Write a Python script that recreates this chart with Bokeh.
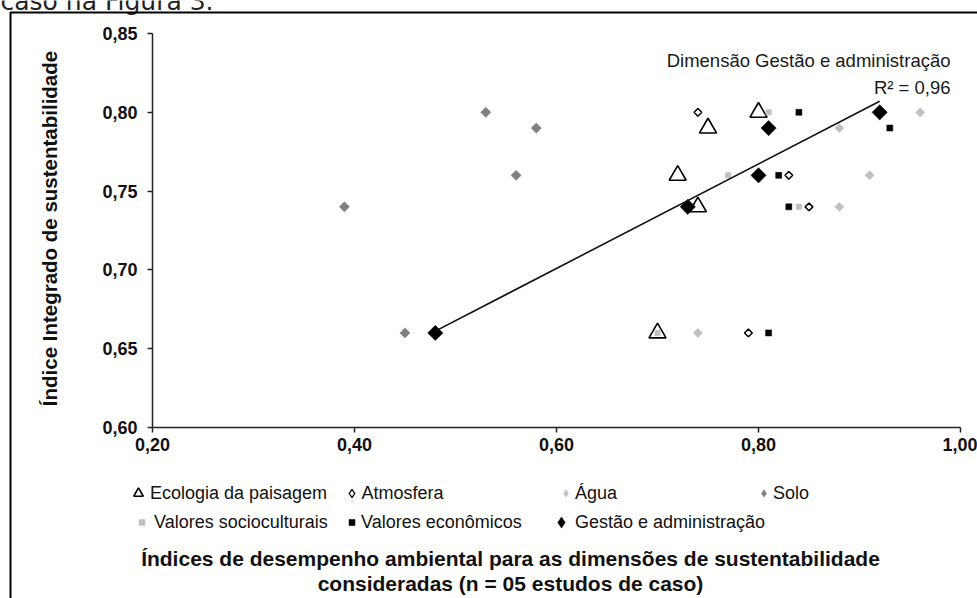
import numpy as np
from bokeh.plotting import figure
from bokeh.models import Range1d, FixedTicker, Label, Legend, LegendItem, BoxAnnotation
from bokeh.embed import file_html
from bokeh.resources import INLINE

# ---------------- data ----------------
x_ticks = [0.20, 0.40, 0.60, 0.80, 1.00]
x_tick_labels = ["0,20", "0,40", "0,60", "0,80", "1,00"]
y_ticks = [0.60, 0.65, 0.70, 0.75, 0.80, 0.85]
y_tick_labels = ["0,60", "0,65", "0,70", "0,75", "0,80", "0,85"]

series_names = ["Ecologia da paisagem", "Atmosfera", "Água", "Solo",
                "Valores socioculturais", "Valores econômicos", "Gestão e administração"]

eco_x = [0.70, 0.72, 0.74, 0.75, 0.80]
eco_y = [0.66, 0.76, 0.74, 0.79, 0.80]
atm_x = [0.79, 0.85, 0.83, 0.74]
atm_y = [0.66, 0.74, 0.76, 0.80]
agua_x = [0.74, 0.88, 0.91, 0.88, 0.96]
agua_y = [0.66, 0.74, 0.76, 0.79, 0.80]
solo_x = [0.45, 0.39, 0.56, 0.58, 0.53]
solo_y = [0.66, 0.74, 0.76, 0.79, 0.80]
soc_x = [0.70, 0.84, 0.77, 0.81]
soc_y = [0.66, 0.74, 0.76, 0.80]
econ_x = [0.81, 0.83, 0.82, 0.93, 0.84]
econ_y = [0.66, 0.74, 0.76, 0.79, 0.80]
ges_x = [0.48, 0.73, 0.80, 0.81, 0.92]
ges_y = [0.66, 0.74, 0.76, 0.79, 0.80]

annot_title = "Dimensão Gestão e administração"
r2_text = "R² = 0,96"
y_title = "Índice Integrado de sustentabilidade"
x_title_1 = "Índices de desempenho ambiental para as dimensões de sustentabilidade"
x_title_2 = "consideradas (n = 05 estudos de caso)"
top_text = "caso na Figura 3."

# ---------------- layout constants (pixels) ----------------
W, H = 977, 598
FL, FR, FT, FB = 152, 960, 33, 427      # where the data box sits on the canvas
X0, X1, Y0, Y1 = 0.2, 1.0, 0.6, 0.85    # data box limits


def dx(px):
    return X0 + (px - FL) / (FR - FL) * (X1 - X0)


def dy(py):
    return Y0 + (FB - py) / (FB - FT) * (Y1 - Y0)


FONT = "Liberation Sans"

# the frame covers the whole canvas; axes are pinned at the data box edges
p = figure(width=W, height=H, output_backend="svg", toolbar_location=None,
           x_range=Range1d(dx(0), dx(W)), y_range=Range1d(dy(H), dy(0)),
           min_border=0)
p.title.visible = False
p.outline_line_color = None
p.grid.visible = False
p.background_fill_color = "white"
p.border_fill_color = "white"

p.xaxis.fixed_location = Y0
p.yaxis.fixed_location = X0
p.xaxis.bounds = (X0, X1)
p.yaxis.bounds = (Y0, Y1)

for ax, ticks, labels in ((p.xaxis, x_ticks, x_tick_labels), (p.yaxis, y_ticks, y_tick_labels)):
    ax.ticker = FixedTicker(ticks=ticks)
    ax.major_label_overrides = {t: l for t, l in zip(ticks, labels)}
    ax.axis_line_color = "#222222"
    ax.axis_line_width = 1.5
    ax.major_tick_line_color = "#222222"
    ax.major_tick_line_width = 1.5
    ax.major_tick_in = 0
    ax.major_tick_out = 5
    ax.minor_tick_in = 0
    ax.minor_tick_out = 0
    ax.major_label_text_font = FONT
    ax.major_label_text_font_style = "bold"
    ax.major_label_text_font_size = "18px"
    ax.major_label_text_color = "#111111"
p.xaxis.major_label_standoff = 5
p.yaxis.major_label_standoff = 10

ANG = np.pi / 4
r_eco = p.scatter(eco_x, eco_y, marker="triangle", size=17, fill_color="white",
                  line_color="black", line_width=1.6)
r_atm = p.scatter(atm_x, atm_y, marker="square", angle=ANG, size=5.5, fill_color="white",
                  line_color="black", line_width=1.5)
r_agua = p.scatter(agua_x, agua_y, marker="square", angle=ANG, size=6.5, fill_color="#c0c0c0",
                   line_color="#c0c0c0", line_width=0.5)
r_solo = p.scatter(solo_x, solo_y, marker="square", angle=ANG, size=7.2, fill_color="#808080",
                   line_color="#808080", line_width=0.5)
r_soc = p.scatter(soc_x, soc_y, marker="square", size=5.5, fill_color="#c0c0c0",
                  line_color="#c0c0c0", line_width=0.5)
r_econ = p.scatter(econ_x, econ_y, marker="square", size=6, fill_color="black",
                   line_color="black", line_width=0.5)
r_ges = p.scatter(ges_x, ges_y, marker="square", angle=ANG, size=10.8, fill_color="black",
                  line_color="black", line_width=0.5)

# linear trend line of the "Gestão e administração" series
slope, intercept = np.polyfit(ges_x, ges_y, 1)
tx = np.array([min(ges_x), max(ges_x)])
p.line(tx, slope * tx + intercept, line_color="#111111", line_width=1.6)

# legend-only swatches (diamond shape); a single NaN point is never drawn in the plot
NAN = [float("nan")]
k_atm = p.scatter(NAN, NAN, marker="diamond", fill_color="white", line_color="black", line_width=1.3)
k_agua = p.scatter(NAN, NAN, marker="diamond", fill_color="#c0c0c0", line_color="#c0c0c0", line_width=0.5)
k_solo = p.scatter(NAN, NAN, marker="diamond", fill_color="#808080", line_color="#808080", line_width=0.5)
k_ges = p.scatter(NAN, NAN, marker="diamond", fill_color="black", line_color="black", line_width=0.5)

# annotation in the top right
p.add_layout(Label(x=dx(950), y=dy(60), text=annot_title, text_align="right",
                   text_baseline="alphabetic", text_font=FONT, text_font_size="18.5px",
                   text_color="#1a1a1a"))
p.add_layout(Label(x=dx(950), y=dy(87), text=r2_text, text_align="right",
                   text_baseline="alphabetic", text_font=FONT, text_font_size="18.5px",
                   text_color="#1a1a1a"))

# axis titles
p.add_layout(Label(x=dx(49), y=dy(228), text=y_title, angle=np.pi / 2, text_align="center",
                   text_baseline="middle", text_font=FONT, text_font_style="bold",
                   text_font_size="20.5px", text_color="#111111"))
p.add_layout(Label(x=dx(510), y=dy(558), text=x_title_1, text_align="center",
                   text_baseline="middle", text_font=FONT, text_font_style="bold",
                   text_font_size="21px", text_color="#111111"))
p.add_layout(Label(x=dx(510), y=dy(583), text=x_title_2, text_align="center",
                   text_baseline="middle", text_font=FONT, text_font_style="bold",
                   text_font_size="21px", text_color="#111111"))

# clipped text of the surrounding document
p.add_layout(Label(x=dx(0), y=dy(1), text=top_text, text_align="left",
                   text_baseline="alphabetic", text_font="DejaVu Sans", text_font_size="25px",
                   text_color="#222222"))

# chart border (top and left visible)
p.add_layout(BoxAnnotation(left=dx(10), right=dx(1300), top=dy(12), bottom=dy(900),
                           fill_color=None, fill_alpha=0, line_color="black",
                           line_alpha=1.0, line_width=2))

# legend: one legend object per entry to reproduce the Excel layout
LEG_H = 24
ROW1, ROW2 = 493, 522
legend_spec = [
    (r_eco, series_names[0], 138.0, ROW1, 9.6, 150),
    (k_atm, series_names[1], 351.0, ROW1, 8.4, 361),
    (k_agua, series_names[2], 565.5, ROW1, 7.6, 575),
    (k_solo, series_names[3], 763.5, ROW1, 7.6, 773),
    (r_soc, series_names[4], 141.5, ROW2, 6.0, 154),
    (r_econ, series_names[5], 351.5, ROW2, 6.0, 361),
    (k_ges, series_names[6], 561.0, ROW2, 11.2, 575),
]
for rend, lab, cx, cy, s, tstart in legend_spec:
    g = int(round(s / 0.4))
    h = max(LEG_H, g)
    stand = max(0, int(round(tstart - (cx + g / 2))))
    leg = Legend(items=[LegendItem(label=lab, renderers=[rend])],
                 location=(cx - g / 2, H - (cy + h / 2)),
                 glyph_width=g, glyph_height=h, label_height=h, label_width=10,
                 label_standoff=stand, padding=0, margin=0, spacing=0,
                 border_line_color=None, background_fill_alpha=0,
                 label_text_font=FONT, label_text_font_size="18px",
                 label_text_color="#111111")
    p.add_layout(leg)

open("out.html", "w").write(file_html(p, INLINE))
